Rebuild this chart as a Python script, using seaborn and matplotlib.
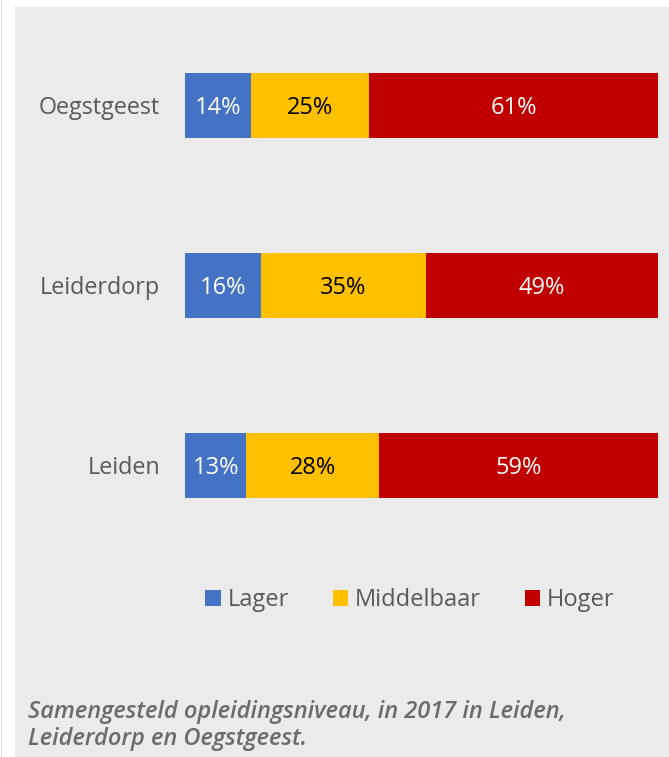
import matplotlib
matplotlib.use("Agg")
import matplotlib.pyplot as plt
from matplotlib.patches import Patch, Rectangle
import numpy as np
import pandas as pd
import seaborn as sns

# Opleidingsniveau per gemeente (percentages)
gemeenten = ["Oegstgeest", "Leiderdorp", "Leiden"]
lager = [14, 16, 13]
middelbaar = [25, 35, 28]
hoger = [61, 49, 59]
niveaus = ["Lager", "Middelbaar", "Hoger"]
kleuren = ["#4472C4", "#FFC000", "#C00000"]
tekstkleuren = ["white", "black", "white"]
bijschrift = ["Samengesteld opleidingsniveau, in 2017 in Leiden,",
              "Leiderdorp en Oegstgeest."]

sns.set_theme(style="white")
plt.rcParams["font.family"] = ["Open Sans", "DejaVu Sans"]

bg = "#EBEBEB"
W, H = 669, 757
fig = plt.figure(figsize=(W / 100, H / 100), dpi=100)
fig.patch.set_facecolor("white")

# grey panel behind the chart, with thin frame line on the left
fig.add_artist(Rectangle((15 / W, 0), 1 - 15 / W, 1 - 7 / H, transform=fig.transFigure,
                         facecolor=bg, edgecolor="none", zorder=0))
fig.add_artist(Rectangle((1 / W, 0), 1 / W, 1, transform=fig.transFigure,
                         facecolor="#E0E0E0", edgecolor="none", zorder=0))

ax = fig.add_axes([185 / W, 1 - 555.5 / H, 473 / W, 540 / H])
ax.set_facecolor("none")

df = pd.DataFrame({"gemeente": gemeenten, "Lager": lager,
                   "Middelbaar": middelbaar, "Hoger": hoger})
segmenten = [df[n].to_numpy() for n in niveaus]
cum = np.cumsum(segmenten, axis=0)

# stacked bars: draw cumulative totals from the widest down
for i in reversed(range(len(niveaus))):
    sns.barplot(x=cum[i], y=df["gemeente"], order=gemeenten, orient="h",
                color=kleuren[i], width=65 / 180, linewidth=0, saturation=1, ax=ax)

# value labels centred in each segment
for i, n in enumerate(niveaus):
    start = cum[i] - segmenten[i]
    for j, v in enumerate(segmenten[i]):
        ax.text(start[j] + v / 2, j + 0.012, f"{v}%", ha="center", va="center",
                color=tekstkleuren[i], fontsize=17)

ax.set_xlim(0, 100)
ax.set_ylim(2.5, -0.5)
ax.set_xlabel("")
ax.set_ylabel("")
ax.set_xticks([])
ax.tick_params(axis="y", length=0, pad=18, labelsize=16.8, labelcolor="#595959")
for s in ax.spines.values():
    s.set_visible(False)

handles = [Patch(facecolor=c, edgecolor="none", label=n) for n, c in zip(niveaus, kleuren)]
fig.legend(handles=handles, loc="center", bbox_to_anchor=(410 / W, 1 - 600 / H), ncol=3,
           frameon=False, fontsize=17, handlelength=0.65, handleheight=0.65,
           handletextpad=0.28, columnspacing=1.87, labelcolor="#595959")

for k, regel in enumerate(bijschrift):
    fig.text(28 / W, 1 - (718 + 27 * k) / H, regel, ha="left", va="baseline",
             fontsize=17, style="italic", weight="semibold", color="#6b6b6b",
             family=["Open Sans", "DejaVu Sans"])

fig.savefig("out.png", dpi=100, facecolor=fig.get_facecolor())
